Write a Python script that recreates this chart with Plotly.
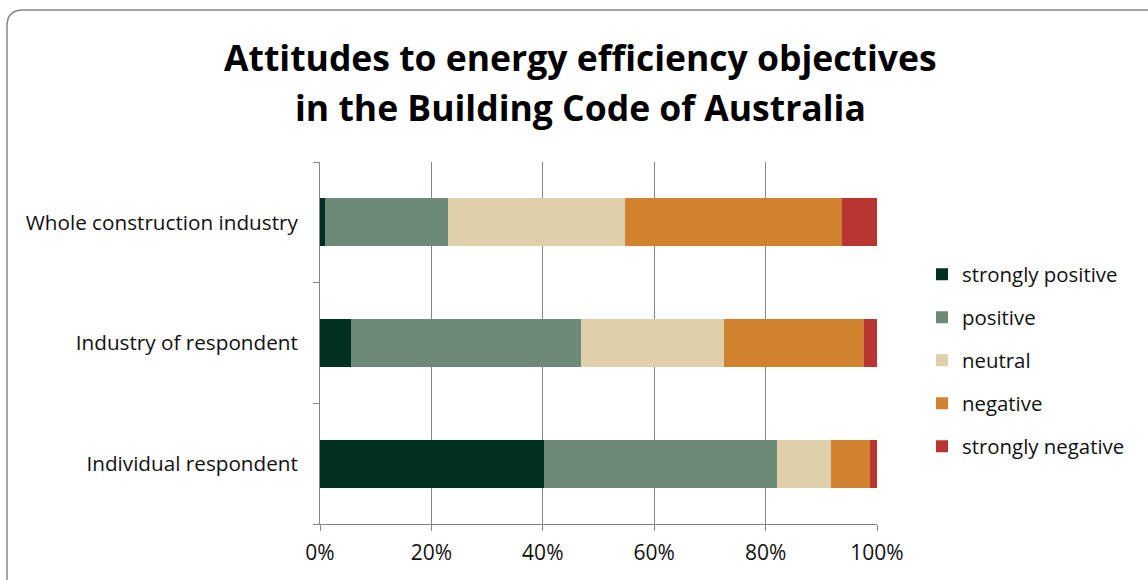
import plotly.graph_objects as go

# Survey responses (% of respondents) by scope of attitude
categories = ["Whole construction industry", "Industry of respondent", "Individual respondent"]
series_names = ["strongly positive", "positive", "neutral", "negative", "strongly negative"]
strongly_positive = [0.9, 5.6, 40.3]
positive = [22.0, 41.2, 41.8]
neutral = [31.9, 25.7, 9.7]
negative = [38.9, 25.1, 7.0]
strongly_negative = [6.3, 2.4, 1.2]
x_ticks = [0, 20, 40, 60, 80, 100]
x_tick_labels = ["0%", "20%", "40%", "60%", "80%", "100%"]

colors = ["#013020", "#6d8a78", "#dfd0ab", "#d0822e", "#b83532"]
series_values = [strongly_positive, positive, neutral, negative, strongly_negative]

W, H = 1148, 580
PL, PR, PT, PB = 320, 877, 162, 524  # plot area in pixels
pw, ph = PR - PL, PB - PT


def px_x(p):
    return (p - PL) / pw


def px_y(p):
    return (PB - p) / ph


FONT = "Open Sans, Carlito, Calibri, sans-serif"

fig = go.Figure()
for name, vals, col in zip(series_names, series_values, colors):
    fig.add_trace(go.Bar(
        y=categories, x=vals, name=name, orientation="h",
        marker=dict(color=col, line=dict(width=0)),
        legendgroup=name,
    ))

# rounded chart border
x0, x1, y0, y1, r = px_x(7), px_x(1162), px_y(10), px_y(594), 16
rx, ry = r / pw, r / ph
border = (f"M {x0+rx},{y0} L {x1-rx},{y0} Q {x1},{y0} {x1},{y0-ry} "
          f"L {x1},{y1+ry} Q {x1},{y1} {x1-rx},{y1} L {x0+rx},{y1} "
          f"Q {x0},{y1} {x0},{y1+ry} L {x0},{y0-ry} Q {x0},{y0} {x0+rx},{y0} Z")

fig.update_layout(
    width=W, height=H,
    margin=dict(l=PL, r=W - PR, t=PT, b=H - PB, pad=0),
    paper_bgcolor="white", plot_bgcolor="white",
    barmode="stack", bargap=0.6,
    font=dict(family=FONT, size=20.7, color="#111111"),
    showlegend=True,
    legend=dict(
        x=px_x(922), xanchor="left", y=px_y(254.5), yanchor="top",
        traceorder="grouped", tracegroupgap=13.5,
        font=dict(family=FONT, size=20.4, color="#111111"),
        bgcolor="rgba(0,0,0,0)",
    ),
    shapes=[dict(type="path", xref="paper", yref="paper", path=border,
                 line=dict(color="#868686", width=1.5), fillcolor="rgba(0,0,0,0)",
                 layer="below")],
    annotations=[
        dict(text="<b>Attitudes to energy efficiency objectives</b>", x=px_x(580), y=px_y(57),
             xref="paper", yref="paper", xanchor="center", yanchor="middle", showarrow=False,
             font=dict(family=FONT, size=35.5, color="#000000")),
        dict(text="<b>in the Building Code of Australia</b>", x=px_x(580), y=px_y(107),
             xref="paper", yref="paper", xanchor="center", yanchor="middle", showarrow=False,
             font=dict(family=FONT, size=35.5, color="#000000")),
    ],
)

fig.update_xaxes(
    range=[0, 100], tickvals=x_ticks, ticktext=x_tick_labels,
    showgrid=True, gridcolor="#868686", gridwidth=1,
    showline=True, linecolor="#868686", linewidth=1,
    ticks="outside", ticklen=6, tickcolor="#868686", ticklabelstandoff=4,
    tickfont=dict(size=21),
    zeroline=False, fixedrange=True,
)
fig.update_yaxes(
    categoryorder="array", categoryarray=categories[::-1],
    showline=True, linecolor="#868686", linewidth=1,
    ticks="outside", ticklen=6, tickcolor="#868686", tickson="boundaries",
    ticklabelstandoff=17, showgrid=False, fixedrange=True,
)

fig.write_html("out.html")
